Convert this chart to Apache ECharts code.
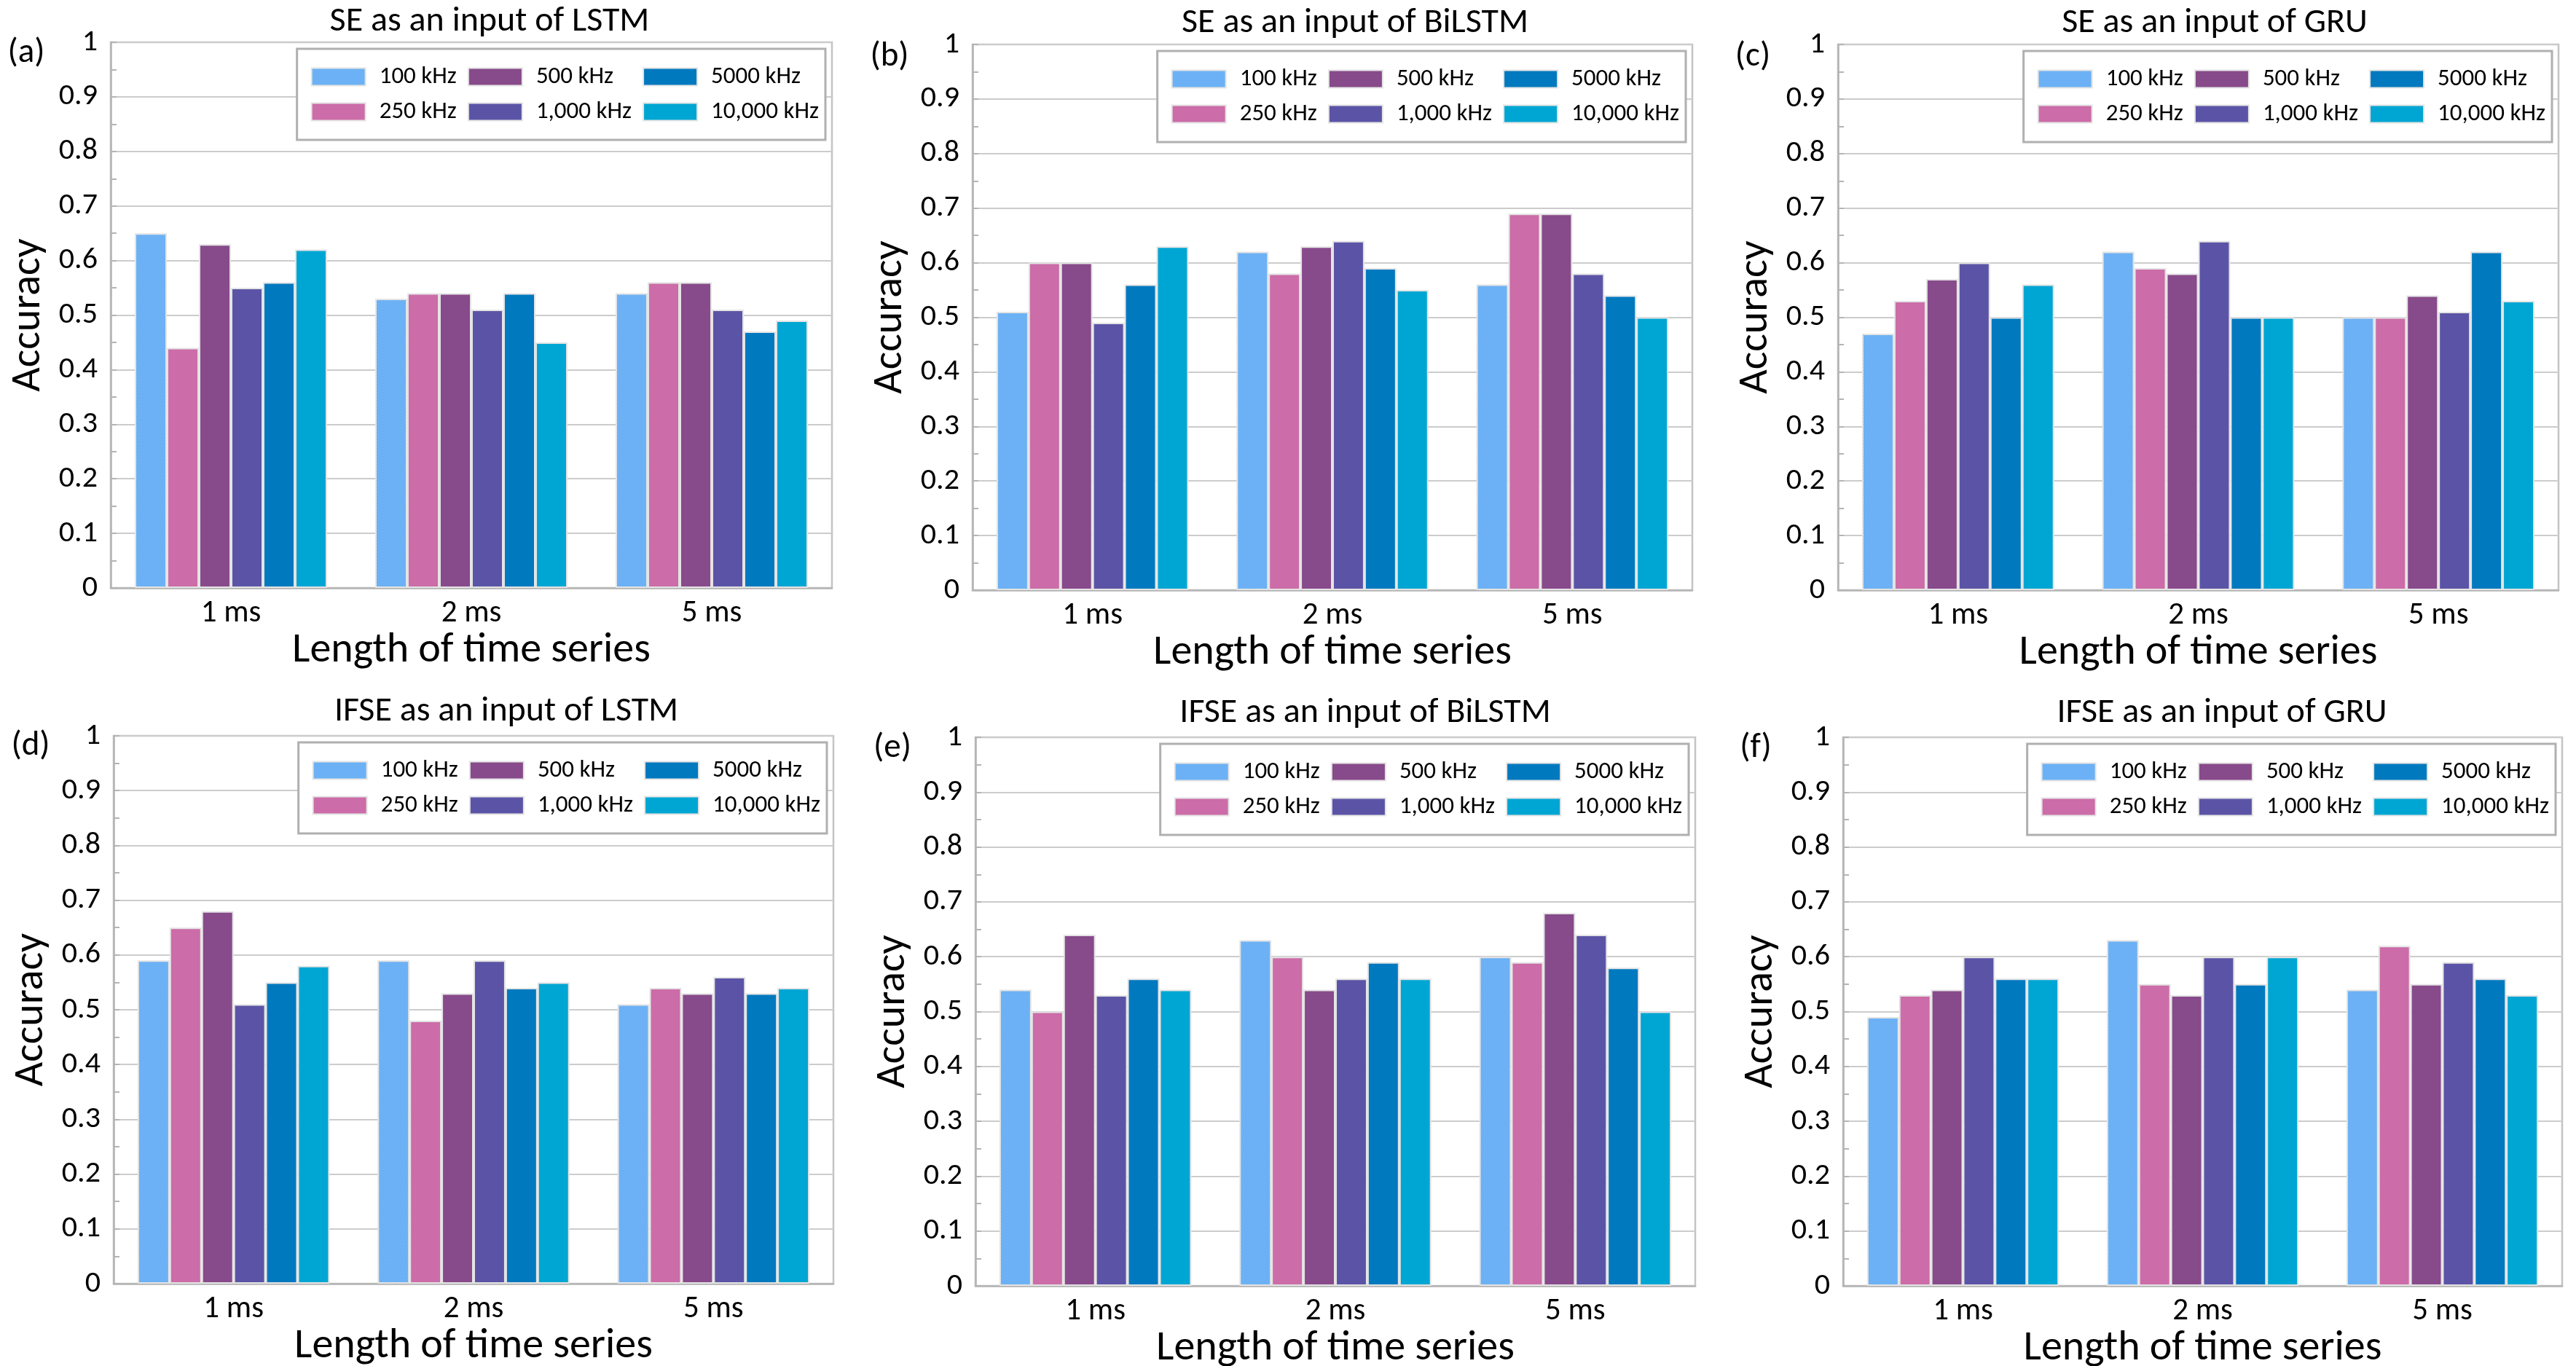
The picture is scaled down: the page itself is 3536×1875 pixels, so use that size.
<!DOCTYPE html>
<html><head><meta charset="utf-8">
<script src="https://cdn.jsdelivr.net/npm/echarts@6/dist/echarts.min.js"></script>
<style>html,body{margin:0;padding:0;background:#fff}#c{width:3536px;height:1875px}</style>
</head><body><div id="c"></div>
<script>
// ---- data ----
const categories = ['1 ms', '2 ms', '5 ms'];
const frequencies = ['100 kHz', '250 kHz', '500 kHz', '1,000 kHz', '5000 kHz', '10,000 kHz'];
const panelTitles = ['SE as an input of LSTM', 'SE as an input of BiLSTM', 'SE as an input of GRU',
  'IFSE as an input of LSTM', 'IFSE as an input of BiLSTM', 'IFSE as an input of GRU'];
const panelLabels = ['(a)', '(b)', '(c)', '(d)', '(e)', '(f)'];
const xAxisName = 'Length of time series';
const yAxisName = 'Accuracy';
// rows: frequency (order of `frequencies`), columns: categories
const seLSTM     = [[0.65,0.53,0.54],[0.44,0.54,0.56],[0.63,0.54,0.56],[0.55,0.51,0.51],[0.56,0.54,0.47],[0.62,0.45,0.49]];
const seBiLSTM   = [[0.51,0.62,0.56],[0.60,0.58,0.69],[0.60,0.63,0.69],[0.49,0.64,0.58],[0.56,0.59,0.54],[0.63,0.55,0.50]];
const seGRU      = [[0.47,0.62,0.50],[0.53,0.59,0.50],[0.57,0.58,0.54],[0.60,0.64,0.51],[0.50,0.50,0.62],[0.56,0.50,0.53]];
const ifseLSTM   = [[0.59,0.59,0.51],[0.65,0.48,0.54],[0.68,0.53,0.53],[0.51,0.59,0.56],[0.55,0.54,0.53],[0.58,0.55,0.54]];
const ifseBiLSTM = [[0.54,0.63,0.60],[0.50,0.60,0.59],[0.64,0.54,0.68],[0.53,0.56,0.64],[0.56,0.59,0.58],[0.54,0.56,0.50]];
const ifseGRU    = [[0.49,0.63,0.54],[0.53,0.55,0.62],[0.54,0.53,0.55],[0.60,0.60,0.59],[0.56,0.55,0.56],[0.56,0.60,0.53]];
const panelData = [seLSTM, seBiLSTM, seGRU, ifseLSTM, ifseBiLSTM, ifseGRU];

// ---- layout / style ----
const FONT = 'Carlito, Lato, "Liberation Sans", sans-serif';
const grids = [
  {l:152, r:1142, t:58,  b:807},
  {l:1335,r:2323, t:61,  b:810},
  {l:2523,r:3512, t:61,  b:810},
  {l:156, r:1144, t:1010,b:1762},
  {l:1339,r:2327, t:1012,b:1765},
  {l:2530,r:3517, t:1012,b:1765}
];
const titlePos = [[672,30],[1860,32],[3040,32],[695,977],[1874,979],[3050,979]];
const labelPos = [[36,73],[1221,78],[2406,78],[42,1024],[1225,1027],[2410,1027]];

const pc = document.createElement('canvas');
pc.width = 4; pc.height = 4;
const pctx = pc.getContext('2d');
pctx.fillStyle = '#b4dafc'; pctx.fillRect(0,0,4,4);
pctx.fillStyle = '#2588ee';
for (let y=0;y<4;y++) for (let x=0;x<4;x++) if ((x+y)%2===0) pctx.fillRect(x,y,1,1);
const colors = [{image: pc, repeat: 'repeat'}, '#cc6ca8', '#874a8a', '#5b54a6', '#0079bf', '#00a6d3'];

const axisGray = '#b4b4b4';
const option = {
  backgroundColor: '#fff',
  animation: false,
  textStyle: {fontFamily: FONT},
  grid: grids.map(g => ({left:g.l, top:g.t, width:g.r-g.l, height:g.b-g.t, show:true,
    borderColor:'#c4c4c4', borderWidth:2.5, containLabel:false, outerBoundsMode:'none'})),
  xAxis: grids.map((g,i) => ({
    gridIndex:i, type:'category', data:categories,
    axisLine:{show:true, lineStyle:{color:axisGray, width:2.5}},
    axisTick:{show:false},
    axisLabel:{color:'#000', fontSize:43, margin:14, fontFamily:FONT},
    splitLine:{show:false},
    name:xAxisName, nameLocation:'middle', nameGap:50,
    nameTextStyle:{color:'#000', fontSize:58, fontFamily:FONT}
  })),
  yAxis: grids.map((g,i) => ({
    gridIndex:i, type:'value', min:0, max:1, interval:0.1,
    axisLine:{show:true, lineStyle:{color:axisGray, width:2.5}},
    axisTick:{show:true, inside:true, length:8, lineStyle:{color:axisGray, width:2}},
    minorTick:{show:true, splitNumber:2, length:8, lineStyle:{color:axisGray, width:2}},
    splitLine:{show:true, lineStyle:{color:'#cccccc', width:2}},
    axisLabel:{color:'#000', fontSize:42, margin:18, fontFamily:FONT},
    name:yAxisName, nameLocation:'middle', nameGap:84,
    nameTextStyle:{color:'#000', fontSize:58, fontFamily:FONT}
  })),
  legend: grids.map((g,i) => ({
    orient:'vertical', right: 3536 - g.r + 9, top: g.t + 9, height: 100,
    data: frequencies, icon:'rect', itemWidth:74, itemHeight:24, itemGap:15,
    padding:[22, 9, 22, 19], borderColor:'#b0b0b0', borderWidth:3, backgroundColor:'#fff',
    textStyle:{color:'#000', fontSize:33, fontFamily:FONT, padding:[0,13,0,14]},
    itemStyle:{borderColor:'#e4e4e4', borderWidth:2}
  })),
  graphic: [
    ...panelTitles.map((t,i) => ({type:'text', x:titlePos[i][0], y:titlePos[i][1],
      style:{text:t, align:'center', verticalAlign:'middle', fill:'#000', font:'48px ' + FONT}})),
    ...panelLabels.map((t,i) => ({type:'text', x:labelPos[i][0], y:labelPos[i][1],
      style:{text:t, align:'center', verticalAlign:'middle', fill:'#000', font:'47px ' + FONT}}))
  ],
  series: []
};
panelData.forEach((vals, p) => {
  frequencies.forEach((f, k) => {
    option.series.push({
      type:'bar', name:f, xAxisIndex:p, yAxisIndex:p, data:vals[k],
      barGap:'0%', barCategoryGap:'20%',
      itemStyle:{color:colors[k], borderColor:'#e4e4e4', borderWidth:2},
      emphasis:{disabled:true}
    });
  });
});
const chart = echarts.init(document.getElementById('c'), null, {renderer:'canvas'});
chart.setOption(option);
</script>
</body></html>
